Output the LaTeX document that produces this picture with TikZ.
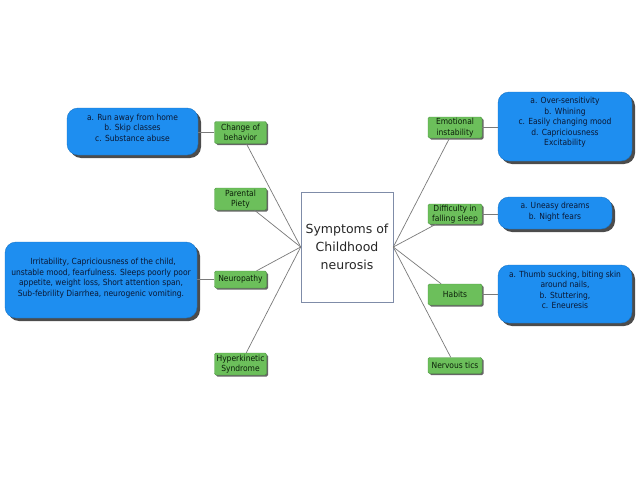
\documentclass[tikz,border=0pt]{standalone}
\usepackage{fontspec}
\setmainfont{DejaVu Sans}
\newfontfamily\smallfont{DejaVu Sans}[FakeStretch=0.9]
\usetikzlibrary{shadows}
\definecolor{bluefill}{HTML}{1E8EF0}
\definecolor{blueline}{HTML}{1775C8}
\definecolor{greenfill}{HTML}{6CBF5B}
\definecolor{greenline}{HTML}{4E9A42}
\definecolor{greentext}{HTML}{0C200A}
\definecolor{bluetxt}{HTML}{0A1834}
\definecolor{linkgray}{HTML}{7A7A7A}
\definecolor{ctrline}{HTML}{7F8CA8}
\begin{document}
\begin{tikzpicture}[x=1pt,y=-1pt,
  greenbox/.style={draw=greenline, fill=greenfill, rounded corners=1.5pt,
    drop shadow={shadow xshift=1.5pt,shadow yshift=-1.5pt,fill=black,opacity=0.6},
    font=\smallfont\fontsize{8.4}{10.5}\selectfont, text=greentext, align=center,
    inner sep=0pt},
  bluebox/.style={draw=blueline, fill=bluefill, rounded corners=11pt,
    drop shadow={shadow xshift=3pt,shadow yshift=-3pt,fill=black,opacity=0.7},
    inner sep=0pt},
  bluetext/.style={font=\smallfont\fontsize{8.4}{10.5}\selectfont, text=bluetxt,
    align=center, inner sep=0pt},
  link/.style={draw=linkgray, line width=0.7pt},
  ctrbox/.style={draw=ctrline, fill=white, line width=0.6pt, align=center,
    font=\fontsize{12.5}{18}\selectfont, text=black!85, inner sep=0pt}
]
\useasboundingbox[fill=white] (0,0) rectangle (638,479);

% centre
\node[ctrbox, minimum width=92pt, minimum height=110pt] (ctr) at (347,247)
  {Symptoms of\\Childhood\\neurosis};

% left green boxes
\node[greenbox, minimum width=52pt, minimum height=22pt] (cb) at (240.5,132.5) {Change of\\behavior};
\node[greenbox, minimum width=52pt, minimum height=22pt] (pp) at (240.5,199) {Parental\\Piety};
\node[greenbox, minimum width=52pt, minimum height=17pt] (np) at (240.5,279.5) {Neuropathy};
\node[greenbox, minimum width=52pt, minimum height=22pt] (hk) at (240.5,364) {Hyperkinetic\\Syndrome};

% right green boxes
\node[greenbox, minimum width=54pt, minimum height=21pt] (ei) at (455,127.5) {Emotional\\instability};
\node[greenbox, minimum width=54pt, minimum height=20pt] (df) at (455,214) {Difficulty in\\falling sleep};
\node[greenbox, minimum width=54pt, minimum height=21pt] (hb) at (455,294.5) {Habits};
\node[greenbox, minimum width=54pt, minimum height=16pt] (nt) at (455,365.5) {Nervous tics};

% blue boxes
\node[bluebox, minimum width=131pt, minimum height=47pt] (b1) at (132.5,131.5) {};
\node[bluetext, yshift=4pt] at (b1.center) {a. Run away from home\\b. Skip classes\\c. Substance abuse};

\node[bluebox, minimum width=192pt, minimum height=76pt] (b2) at (101,280) {};
\node[bluetext, yshift=2pt] at (b2.center) {\hphantom{ii}Irritability, Capriciousness of the child,\\unstable mood, fearfulness. Sleeps poorly poor\\appetite, weight loss, Short attention span,\\Sub-febrility Diarrhea, neurogenic vomiting.};

\node[bluebox, minimum width=134pt, minimum height=69pt] (b3) at (565,126.5) {};
\node[bluetext, yshift=4pt] at (b3.center) {a. Over-sensitivity\\b. Whining\\c. Easily changing mood\\d. Capriciousness\\Excitability};

\node[bluebox, minimum width=114pt, minimum height=32pt] (b4) at (555,213) {};
\node[bluetext, yshift=1.5pt] at (b4.center) {a. Uneasy dreams\\b. Night fears};

\node[bluebox, minimum width=134pt, minimum height=58pt] (b5) at (565,294) {};
\node[bluetext, yshift=4pt] at (b5.center) {a. Thumb sucking, biting skin\\around nails,\\b. Stuttering,\\c. Eneuresis};

% connectors to centre
\draw[link] (cb) -- (ctr.west);
\draw[link] (pp) -- (ctr.west);
\draw[link] (np) -- (ctr.west);
\draw[link] (hk) -- (ctr.west);
\draw[link] (ei) -- (ctr.east);
\draw[link] (df) -- (ctr.east);
\draw[link] (hb) -- (ctr.east);
\draw[link] (nt) -- (ctr.east);

% connectors green to blue
\draw[link] (cb.west) -- (cb.west -| b1.east);
\draw[link] (np.west) -- (np.west -| b2.east);
\draw[link] (ei.east) -- (ei.east -| b3.west);
\draw[link] (df.east) -- (df.east -| b4.west);
\draw[link] (hb.east) -- (hb.east -| b5.west);
\end{tikzpicture}
\end{document}
